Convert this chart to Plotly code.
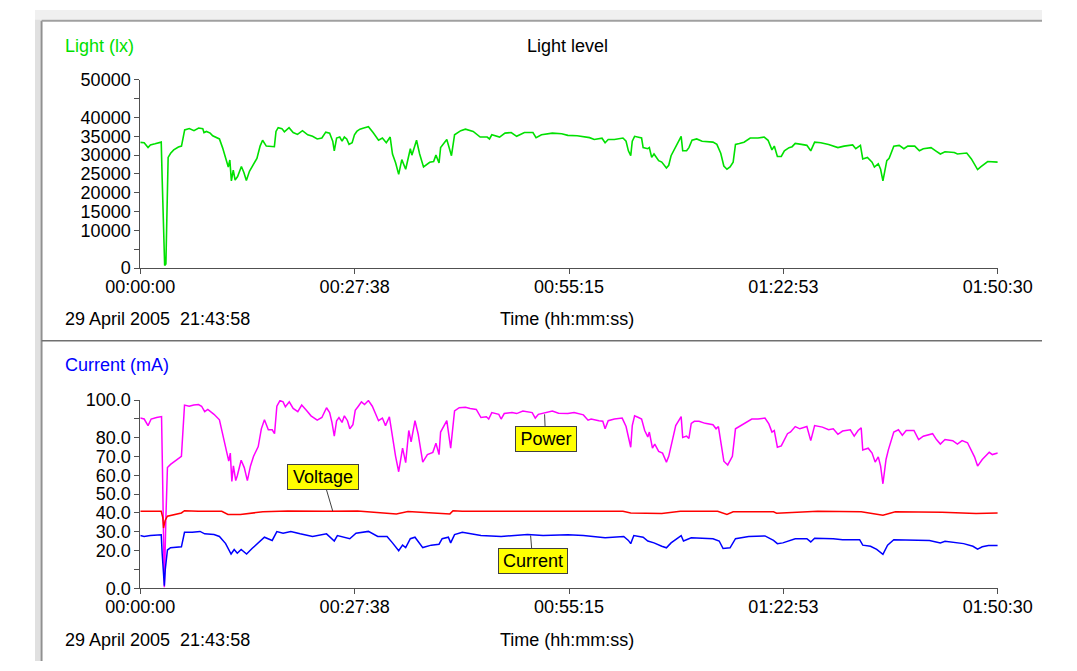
import plotly.graph_objects as go

# ---------------- data (time in minutes since 21:43:58) ----------------
light_t = [0, 0.5, 1.0, 1.3, 1.9, 2.5, 2.7, 2.82, 2.98, 3.14, 3.3, 3.43, 3.59, 3.91, 4.31, 4.91, 5.31,
           5.72, 6.32, 6.92, 7.52, 8.05, 8.21, 8.53, 9.01, 9.33, 10.2, 10.6, 11.0, 11.34, 11.54, 11.74,
           11.98, 12.22, 12.54, 13.03, 13.35, 13.67, 14.07, 14.55, 15.03, 15.44, 15.76, 16.24, 17.28,
           17.49, 17.77, 18.25, 18.57, 19.17, 19.7, 20.26, 20.9, 21.58, 22.2, 22.8, 23.4, 23.9, 24.4,
           24.8, 25.0, 25.3, 25.7, 26.0, 26.3, 26.6, 26.9, 27.3, 27.6, 27.9, 28.3, 28.8, 29.4, 30.0,
           30.7, 31.2, 31.7, 32.2, 32.5, 32.9, 33.3, 33.7, 34.2, 34.8, 35.0, 35.6, 36.0, 36.5, 37.3,
           37.8, 38.1, 38.5, 38.7, 39.5, 40.1, 40.5, 41.3, 41.9, 42.9, 43.8, 44.7, 45.0, 45.3, 46.3,
           47.0, 47.8, 48.5, 49.5, 50.6, 51.0, 51.7, 53.1, 54.3, 55.1, 56.3, 57.9, 58.5, 59.5, 59.9,
           60.3, 61.1, 62.2, 62.6, 62.9, 63.2, 63.4, 63.7, 64.6, 64.8, 65.4, 65.6, 65.9, 66.2, 66.8,
           67.2, 67.8, 68.1, 68.4, 69.0, 69.7, 69.9, 70.4, 70.7, 71.1, 71.7, 72.4, 73.8, 74.3, 74.8,
           75.2, 75.6, 76.0, 76.4, 76.7, 77.2, 77.8, 78.6, 79.6, 80.4, 80.9, 81.4, 81.7, 82.1, 82.6,
           83.0, 83.6, 84.0, 84.4, 85.2, 85.9, 86.4, 86.9, 87.7, 88.7, 89.9, 90.7, 91.8, 92.2, 92.8,
           93.1, 93.7, 94.3, 94.6, 95.1, 95.4, 95.7, 96.2, 96.5, 97.1, 97.8, 98.4, 98.9, 99.8, 100.4,
           100.9, 101.9, 102.5, 103.1, 103.7, 104.9, 105.3, 106.5, 107.1, 107.5, 107.9, 108.3, 109.2,
           110.5]
light_v = [33400, 33300, 32000, 32700, 33000, 33300, 33450, 23800, 13500, 700, 1100, 19500, 29400,
           30500, 31400, 32150, 32400, 36700, 37050, 36500, 37200, 37050, 36000, 36300, 35850, 35150,
           34300, 32000, 29400, 26850, 28700, 23150, 26000, 23400, 24300, 27000, 25400, 23250, 25700,
           27450, 29150, 32400, 33950, 32400, 32250, 36300, 37300, 37050, 36200, 37300, 36000, 35500,
           36500, 35400, 35000, 34300, 34550, 36100, 35850, 33700, 31150, 34550, 34800, 33700, 34800,
           34300, 32850, 33300, 35400, 36300, 36900, 37200, 37550, 36000, 33950, 34550, 33300, 34800,
           30300, 27950, 24900, 28800, 26250, 31700, 30000, 33950, 30300, 26850, 28100, 28300, 30000,
           27900, 32000, 34150, 29850, 35400, 36500, 36900, 36300, 34800, 34800, 34300, 35400, 34800,
           35850, 36000, 35000, 36000, 36000, 34650, 35400, 35850, 35700, 35250, 35150, 34650, 34150,
           34500, 33300, 34150, 34150, 34550, 33700, 31150, 29850, 33700, 35000, 34550, 32000, 31700,
           32000, 29400, 30300, 28550, 28150, 26600, 27300, 29850, 32400, 35000, 31150, 31150, 32000,
           33950, 34300, 33700, 33450, 32850, 30500, 27100, 26250, 26850, 28150, 32850, 33100, 33450,
           34550, 34550, 34800, 33950, 31400, 32400, 29650, 29650, 31150, 32000, 32250, 33100, 32850,
           32600, 31150, 33450, 33300, 32850, 32000, 32400, 32700, 31700, 32600, 29000, 29400, 28150,
           26850, 27700, 26250, 23150, 28550, 29150, 32400, 32600, 31700, 32400, 32400, 31150, 31700,
           32000, 31150, 30300, 30900, 30700, 30300, 30550, 29000, 27700, 26150, 26850, 28300, 28150]

power_t = [0, 0.5, 1.0, 1.4, 2.1, 2.74, 2.86, 2.98, 3.1, 3.3, 3.5, 3.9, 4.4, 4.9, 5.3, 5.7, 6.3, 6.9,
           7.5, 7.9, 8.3, 8.7, 9.5, 10.2, 10.6, 11.0, 11.4, 11.6, 11.8, 12.0, 12.3, 12.5, 13.0, 13.4,
           13.8, 14.2, 14.6, 15.2, 15.6, 16.0, 16.5, 17.0, 17.3, 17.6, 18.0, 18.4, 18.7, 19.2, 19.7,
           20.3, 20.8, 21.4, 22.0, 22.8, 23.4, 24.0, 24.4, 24.7, 25.0, 25.3, 25.6, 26.0, 26.3, 26.7,
           27.0, 27.4, 27.7, 28.1, 28.5, 28.9, 29.4, 29.9, 30.4, 30.7, 31.2, 31.6, 32.1, 32.5, 32.9,
           33.3, 33.8, 34.2, 34.6, 34.9, 35.4, 35.8, 36.4, 37.0, 37.7, 38.1, 38.5, 38.7, 39.5, 40.0,
           40.5, 41.1, 41.9, 42.5, 43.3, 43.9, 44.6, 44.9, 45.3, 46.2, 46.5, 46.9, 47.9, 48.5, 49.3,
           50.5, 50.9, 51.3, 52.3, 53.1, 53.9, 55.1, 55.9, 57.1, 57.7, 58.1, 59.1, 59.6, 59.9, 60.3,
           61.1, 62.1, 62.6, 62.9, 63.2, 63.4, 63.7, 64.2, 64.6, 65.0, 65.4, 65.6, 66.0, 66.3, 66.8,
           67.3, 67.8, 68.1, 68.4, 69.0, 69.7, 69.9, 70.4, 70.7, 71.0, 71.4, 72.0, 72.8, 73.8, 74.2,
           74.5, 74.9, 75.2, 75.7, 76.0, 76.3, 76.7, 77.2, 78.0, 78.8, 79.6, 80.5, 81.0, 81.4, 81.7,
           82.1, 82.6, 83.0, 83.4, 83.8, 84.4, 85.0, 85.9, 86.4, 86.9, 87.9, 88.7, 89.3, 89.9, 90.5,
           91.5, 92.0, 92.5, 92.9, 93.1, 93.8, 94.3, 94.7, 95.1, 95.4, 95.7, 96.1, 96.4, 97.1, 97.7,
           98.2, 98.7, 99.7, 100.3, 100.9, 102.1, 102.6, 103.1, 103.7, 104.7, 105.3, 105.9, 106.6,
           107.1, 107.5, 107.9, 108.5, 109.4, 109.8, 110.5]
power_v = [90.4, 89.9, 86.4, 89.9, 90.7, 91.2, 63.2, 35.7, 0.5, 37.5, 64.1, 65.8, 67.5, 69.2, 70.1,
           97.3, 96.7, 97.3, 97.6, 96.7, 93.8, 95.0, 92.4, 89.5, 82.1, 75.3, 67.5, 71.8, 56.7, 65.0,
           57.2, 59.8, 68.0, 64.1, 57.2, 65.0, 70.1, 75.3, 84.7, 89.5, 84.2, 84.2, 82.1, 96.7, 99.7,
           99.0, 96.4, 99.0, 95.5, 93.8, 97.3, 94.5, 91.6, 89.3, 90.7, 95.9, 93.3, 88.1, 80.8, 89.0,
           90.7, 88.1, 91.6, 89.0, 84.7, 86.9, 94.5, 96.7, 99.0, 97.6, 99.7, 96.7, 92.4, 89.0, 90.4,
           86.4, 91.1, 80.4, 70.1, 61.9, 74.4, 66.7, 83.8, 77.8, 89.0, 82.1, 67.0, 71.0, 72.2, 77.0,
           71.0, 83.0, 89.0, 74.4, 94.2, 95.9, 96.2, 95.5, 95.0, 90.7, 91.1, 89.9, 93.3, 92.4, 89.9,
           92.8, 93.3, 92.8, 94.2, 93.3, 90.4, 92.4, 93.3, 94.2, 93.0, 92.8, 93.3, 92.1, 89.3, 89.9,
           89.0, 88.7, 84.7, 89.0, 89.9, 90.4, 85.9, 80.4, 74.9, 86.4, 91.6, 90.7, 89.9, 83.8, 80.4,
           83.0, 74.4, 76.6, 72.7, 71.8, 67.0, 70.1, 75.3, 86.4, 91.2, 80.1, 80.8, 79.6, 87.6, 88.7,
           88.7, 87.6, 86.9, 84.7, 85.9, 76.1, 67.5, 65.5, 68.0, 70.1, 84.7, 85.9, 88.1, 89.9, 89.9,
           90.4, 87.3, 83.0, 83.8, 74.9, 75.6, 79.0, 82.1, 83.0, 85.9, 84.7, 85.9, 78.4, 86.4, 85.6,
           84.2, 84.7, 81.8, 83.5, 84.2, 80.8, 83.8, 85.2, 73.5, 74.4, 71.8, 67.0, 69.8, 64.9, 55.5,
           68.4, 73.5, 83.0, 84.2, 81.3, 83.8, 83.8, 79.0, 80.8, 82.1, 79.0, 76.6, 79.0, 78.4, 76.6,
           78.4, 77.3, 73.2, 69.8, 64.9, 68.4, 72.2, 71.0, 71.8]

volt_t = [0, 2.7, 2.9, 3.0, 3.2, 3.5, 5.3, 5.7, 7.5, 10.5, 11.3, 12.9, 15.8, 19.0, 24.0, 28.0, 33.0,
          34.5, 39.9, 40.3, 41.5, 48.0, 55.1, 62.2, 63.2, 67.2, 69.6, 74.4, 75.6, 76.4, 81.6, 82.0,
          87.3, 92.9, 95.7, 97.3, 103.3, 107.7, 110.5]
volt_v = [40.9, 40.9, 37.5, 32.0, 36.0, 38.3, 40.0, 41.2, 40.9, 40.9, 39.2, 39.2, 40.6, 41.1, 40.9,
          41.1, 39.5, 40.8, 39.5, 41.2, 40.9, 41.0, 40.9, 40.9, 40.0, 39.7, 40.9, 40.9, 39.2, 40.6,
          40.6, 39.9, 40.9, 40.6, 38.8, 40.6, 40.4, 39.7, 40.0]

curr_t = [0, 0.49, 1.3, 2.7, 2.82, 2.98, 3.1, 3.22, 3.5, 3.9, 4.9, 5.3, 5.7, 6.7, 7.7, 8.3, 9.5, 10.2,
          11.0, 11.7, 12.1, 12.5, 13.0, 13.7, 14.4, 15.2, 16.0, 17.0, 17.6, 18.4, 19.4, 20.6, 22.2,
          24.0, 25.0, 25.4, 26.2, 27.0, 27.8, 29.4, 30.6, 31.8, 32.5, 33.3, 33.8, 34.2, 34.8, 35.4,
          36.4, 37.5, 38.5, 38.9, 39.7, 40.0, 40.5, 41.5, 43.9, 46.5, 49.9, 51.9, 55.1, 57.1, 59.9,
          62.3, 62.9, 63.2, 63.6, 64.8, 65.4, 66.2, 67.2, 67.8, 68.4, 69.7, 70.0, 71.0, 73.8, 74.6,
          75.1, 76.0, 76.7, 78.4, 80.5, 81.6, 82.1, 82.8, 84.4, 85.9, 86.4, 86.9, 89.3, 90.5, 92.7,
          93.1, 94.1, 94.9, 95.7, 96.3, 97.1, 99.3, 101.7, 103.1, 103.7, 106.1, 107.3, 107.9, 108.5,
          109.3, 110.5]
curr_v = [28.0, 27.5, 28.0, 28.4, 18.6, 6.5, 1.4, 10.0, 20.3, 21.5, 22.0, 22.0, 29.7, 29.7, 30.2,
          28.9, 28.5, 27.5, 23.7, 18.2, 20.6, 18.6, 20.6, 18.2, 21.1, 24.1, 27.1, 25.4, 30.1, 29.2,
          30.1, 28.9, 27.5, 28.9, 25.1, 28.0, 27.1, 26.3, 29.2, 30.2, 27.5, 27.5, 24.1, 19.9, 22.9,
          21.6, 26.3, 27.1, 21.6, 22.9, 23.4, 26.3, 27.1, 24.1, 28.5, 29.7, 28.0, 27.5, 28.5, 28.0,
          28.4, 28.0, 26.8, 27.5, 25.4, 23.7, 28.0, 27.1, 25.1, 24.1, 22.3, 21.5, 24.1, 28.0, 25.1,
          26.8, 26.3, 25.1, 21.1, 21.5, 26.3, 27.5, 27.8, 25.4, 23.7, 24.1, 26.3, 26.3, 24.6, 26.6,
          26.3, 25.8, 25.8, 22.9, 22.3, 20.6, 18.0, 22.9, 25.8, 25.8, 25.4, 24.1, 24.9, 23.7, 22.3,
          20.8, 22.0, 22.7, 22.7]

x_tickvals = [0, 27.625, 55.25, 82.875, 110.5]
x_ticktext = ["00:00:00", "00:27:38", "00:55:15", "01:22:53", "01:50:30"]
light_tickvals = list(range(0, 50001, 5000))
light_ticktext = ["0", "", "10000", "15000", "20000", "25000", "30000", "35000", "40000", "", "50000"]
curr_tickvals = list(range(0, 101, 10))
curr_ticktext = ["0.0", "", "20.0", "30.0", "40.0", "50.0", "60.0", "70.0", "80.0", "", "100.0"]

# ---------------- layout helpers ----------------
W, H = 1077, 671
FONT = "Liberation Sans, Arial, sans-serif"
GREEN, MAGENTA, RED, BLUE = "#00e000", "#ff00ff", "#ff0000", "#0000ff"
AXC = "#505050"


def pxx(x):
    return x / W


def pyy(y):
    return 1 - y / H


X0, X1 = 112.6, 1029.7
dom_x = [pxx(X0), pxx(X1)]

fig = go.Figure()
fig.add_trace(go.Scatter(x=light_t, y=light_v, mode="lines", line=dict(color=GREEN, width=1.6),
                         xaxis="x", yaxis="y", hoverinfo="skip"))
fig.add_trace(go.Scatter(x=power_t, y=power_v, mode="lines", line=dict(color=MAGENTA, width=1.5),
                         xaxis="x2", yaxis="y2", hoverinfo="skip"))
fig.add_trace(go.Scatter(x=volt_t, y=volt_v, mode="lines", line=dict(color=RED, width=1.5),
                         xaxis="x2", yaxis="y2", hoverinfo="skip"))
fig.add_trace(go.Scatter(x=curr_t, y=curr_v, mode="lines", line=dict(color=BLUE, width=1.5),
                         xaxis="x2", yaxis="y2", hoverinfo="skip"))

tickfont = dict(family=FONT, size=18, color="black")
xcommon = dict(range=[0, 110.5], tickmode="array", tickvals=x_tickvals, ticktext=x_ticktext,
               ticks="outside", ticklen=5, tickcolor=AXC, showline=True, linecolor=AXC, linewidth=1,
               showgrid=False, zeroline=False, domain=dom_x, tickfont=tickfont, fixedrange=True,
               ticklabelstandoff=-3)
ycommon = dict(ticks="outside", ticklen=5, tickcolor=AXC, showline=True, linecolor=AXC, linewidth=1,
               showgrid=False, zeroline=False, tickfont=tickfont, tickmode="array", fixedrange=True)

fig.update_layout(
    width=W, height=H, margin=dict(l=0, r=0, t=0, b=0, pad=0),
    paper_bgcolor="white", plot_bgcolor="white", showlegend=False,
    font=dict(family=FONT, size=18, color="black"),
    xaxis=dict(anchor="y", **xcommon),
    yaxis=dict(anchor="x", range=[0, 50000], domain=[pyy(266), pyy(72)],
               tickvals=light_tickvals, ticktext=light_ticktext, **ycommon),
    xaxis2=dict(anchor="y2", **xcommon),
    yaxis2=dict(anchor="x2", range=[0, 100], domain=[pyy(596), pyy(402)],
                tickvals=curr_tickvals, ticktext=curr_ticktext, **ycommon),
)

# window frame
shapes = [
    dict(type="rect", xref="paper", yref="paper", x0=0, x1=pxx(6), y0=0, y1=1,
         fillcolor="#e0e0e0", line=dict(width=0), layer="below"),
    dict(type="rect", xref="paper", yref="paper", x0=0, x1=1, y0=pyy(10), y1=1,
         fillcolor="#f0f0f0", line=dict(width=0), layer="below"),
    dict(type="line", xref="paper", yref="paper", x0=pxx(7), x1=pxx(7), y0=0, y1=pyy(11),
         line=dict(color="#909090", width=2)),
    dict(type="line", xref="paper", yref="paper", x0=pxx(7), x1=1, y0=pyy(11), y1=pyy(11),
         line=dict(color="#a0a0a0", width=2)),
    dict(type="line", xref="paper", yref="paper", x0=pxx(7), x1=1, y0=pyy(341), y1=pyy(341),
         line=dict(color="#707070", width=1.5)),
]
fig.update_layout(shapes=shapes)


def label(text, x, y, color="black", anchor="left"):
    return dict(text=text, xref="paper", yref="paper", x=pxx(x), y=pyy(y), xanchor=anchor,
                yanchor="middle", showarrow=False, font=dict(family=FONT, size=18, color=color))


ann = [
    label("Light (lx)", 30, 37, GREEN),
    label("Light level", 570, 37, anchor="center"),
    label("29 April 2005 \u00a021:43:58", 30, 319),
    label("Time (hh:mm:ss)", 569, 319, anchor="center"),
    label("Current (mA)", 30, 366, BLUE),
    label("29 April 2005 \u00a021:43:58", 30, 649),
    label("Time (hh:mm:ss)", 569, 649, anchor="center"),
]


def tag(text, x, y, ax, ay, w):
    return dict(text=text, xref="x2", yref="y2", x=x, y=y, ax=ax, ay=ay, showarrow=True,
                arrowhead=0, arrowwidth=1, arrowcolor="#404040", standoff=0, startstandoff=0,
                bgcolor="#ffff00", bordercolor="#404040", borderwidth=1, borderpad=0,
                width=w, height=24, font=dict(family=FONT, size=18, color="black"))


ann += [
    tag("Voltage", 24.8, 41.0, -10, -34, 70),
    tag("Power", 52.1, 92.4, 1, 25, 60),
    tag("Current", 50.3, 28.0, 2, 25, 68),
]
fig.update_layout(annotations=ann)

fig.write_html("out.html")
